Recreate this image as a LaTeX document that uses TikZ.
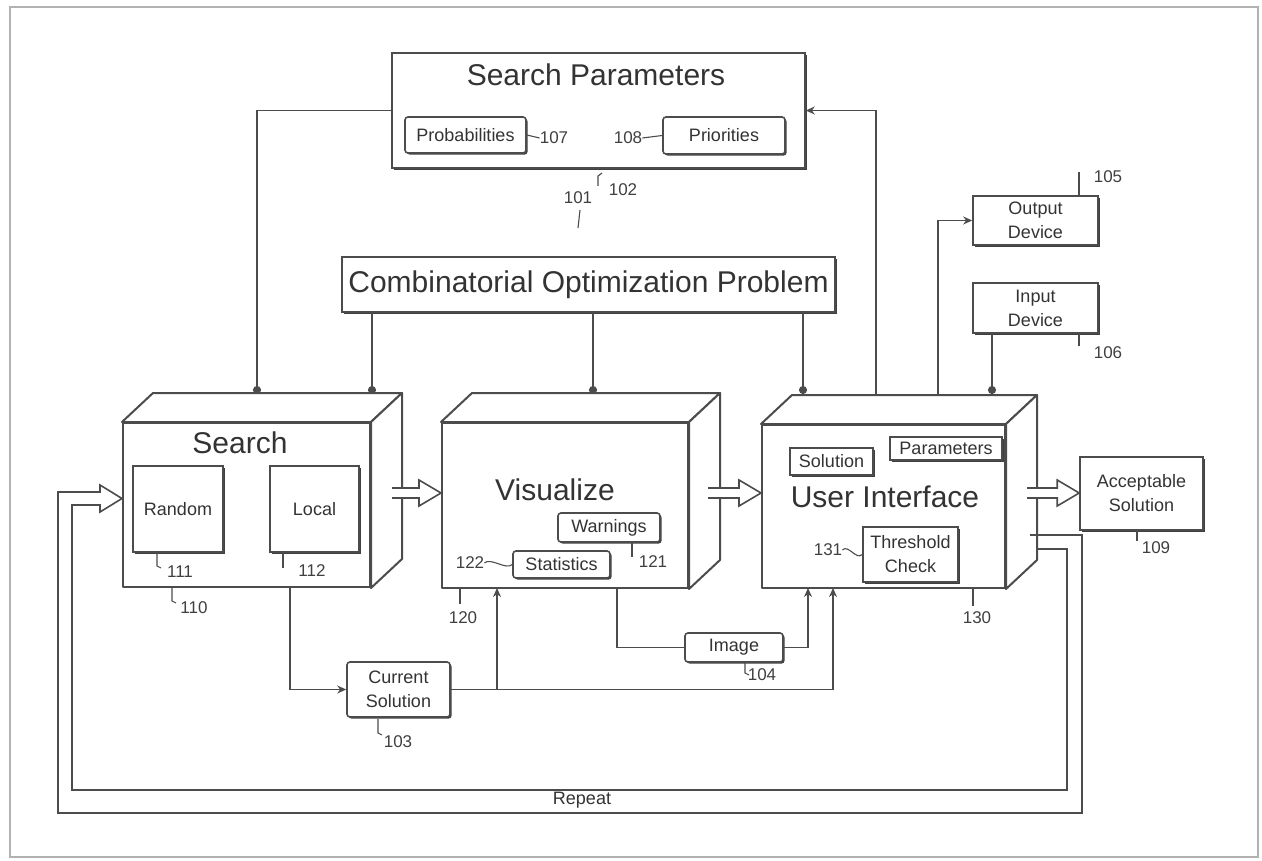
\documentclass[tikz,border=0pt]{standalone}
\usepackage{fontspec}
\setmainfont{Liberation Sans}
\usetikzlibrary{arrows.meta,shadows,calc}

\tikzset{
  ln/.style={draw=black!70, line width=1.7pt},
  arr/.style={ln, -{Stealth[length=9pt,width=8pt]}},
  dotend/.style={ln, -{Circle[length=8pt]}},
  box/.style={draw=black!70, line width=1.6pt, fill=white, inner sep=0pt,
    drop shadow={shadow xshift=1.6pt, shadow yshift=-1.6pt, fill=black!75, opacity=1}},
  rbox/.style={box, rounded corners=3pt},
  face/.style={draw=black!70, line width=2pt, fill=white, line join=round, inner sep=0pt},
  hollow/.style={draw=black!70, line width=1.6pt, fill=white, line join=miter},
  big/.style={font=\fontsize{30}{34}\selectfont, text=black!80, inner sep=0pt},
  small/.style={font=\fontsize{18}{24}\selectfont, text=black!80, align=center},
  num/.style={font=\fontsize{17}{20}\selectfont, text=black!75, inner sep=0pt},
  lead/.style={draw=black!70, line width=1.1pt},
}

% top and right faces of a block whose front face is the node #1
\newcommand\depthfaces[1]{%
  \draw[face] (#1.north west) -- ++(31,-29) -- ($(#1.north east)+(31,-29)$) -- (#1.north east) -- cycle;
  \draw[face] (#1.north east) -- ++(31,-29) -- ($(#1.south east)+(31,-29)$) -- (#1.south east) -- cycle;}

% wide open arrow from coordinate #1 to tip #2
\newcommand\hollowarrow[2]{%
  \draw[hollow] ($(#1)+(0,-5)$) -- ($(#2)+(-22,-5)$) -- ($(#2)+(-22,-13)$) -- (#2)
    -- ($(#2)+(-22,13)$) -- ($(#2)+(-22,5)$) -- ($(#1)+(0,5)$);}

\begin{document}
\begin{tikzpicture}[x=1pt, y=-1pt]
\useasboundingbox (0,0) rectangle (1262,861);
\fill[white] (0,0) rectangle (1262,861);
\draw[black!30, line width=2pt] (10,7) rectangle (1258,857);

% ---------- search parameters ----------
\node[box, minimum width=413pt, minimum height=115pt] (sp) at (598.5,110.5) {};
\node[big] (sptitle) at (596,75) {Search Parameters};
\node[rbox, small, minimum width=121pt, minimum height=36pt] (prob) at (465.5,135) {Probabilities};
\node[rbox, small, minimum width=122pt, minimum height=37pt] (prio) at (724,135.5) {Priorities};
\node[num] (n107) at (554,138) {107};
\draw[lead] (prob.east) -- (n107.west);
\node[num] (n108) at (628,138) {108};
\draw[lead] (n108.east) -- (prio.west);
\node[num] (n102) at (623,190) {102};
\draw[lead] (598,186) -- (598,176) -- (602,173);

% ---------- problem ----------
\node[box, big, minimum width=493pt, minimum height=55pt] (cop) at (588.5,284.5) {Combinatorial Optimization Problem};
\node[num] (n101) at (578,198) {101};
\draw[lead] (580,210) -- (578,228);

% ---------- devices ----------
\node[box, small, minimum width=125pt, minimum height=49pt] (out) at (1035.5,220.5) {Output\\Device};
\node[box, small, minimum width=125pt, minimum height=50pt] (in) at (1035.5,308) {Input\\Device};
\node[num] (n105) at (1108,177) {105};
\draw[lead] (1079,172) -- (1079,196);
\node[num] (n106) at (1108,353) {106};
\draw[lead] (1079,333) -- (1079,346);

% ---------- search block ----------
\node[face, minimum width=247pt, minimum height=164pt] (search) at (246.5,505) {};
\depthfaces{search}
\node[big] (stitle) at (240,443) {Search};
\node[box, small, minimum width=90pt, minimum height=86pt] (rand) at (178,509) {Random};
\node[box, small, minimum width=89pt, minimum height=86pt] (loc) at (314.5,509) {Local};
\node[num] (n111) at (180,572) {111};
\draw[lead] (157,553) -- (157,566) -- (161,568);
\node[num] (n112) at (312,571) {112};
\draw[lead] (283,553) -- (283,568);
\node[num] (n110) at (194,608) {110};
\draw[lead] (172,588) -- (172,601) -- (176,603);

% ---------- visualize block ----------
\node[face, minimum width=246pt, minimum height=165pt] (vis) at (565,505.5) {};
\depthfaces{vis}
\node[big] (vtitle) at (555,490) {Visualize};
\node[rbox, small, minimum width=102pt, minimum height=29pt] (warn) at (609,527.5) {Warnings};
\node[rbox, small, minimum width=97pt, minimum height=27pt] (stat) at (561.5,564.5) {Statistics};
\node[num] (n122) at (470,563) {122};
\draw[lead] (n122.east) .. controls +(6,-6) and +(-6,6) .. (stat.west);
\node[num] (n121) at (653,562) {121};
\draw[lead] (632,543) -- (632,557);
\node[num] (n120) at (463,618) {120};
\draw[lead] (460,589) -- (460,604);

% ---------- user interface block ----------
\node[face, minimum width=243pt, minimum height=163pt] (ui) at (883.5,506.5) {};
\depthfaces{ui}
\node[big] (utitle) at (885,497) {User Interface};
\node[box, small, minimum width=83pt, minimum height=27pt] (sol) at (831.5,461.5) {Solution};
\node[box, small, minimum width=112pt, minimum height=23pt] (par) at (946,448.5) {Parameters};
\node[box, small, minimum width=95pt, minimum height=55pt] (thr) at (910.5,554.5) {Threshold\\Check};
\node[num] (n131) at (828,550) {131};
\draw[lead] (n131.east) .. controls +(6,-6) and +(-6,6) .. (thr.west);
\node[num] (n130) at (977,618) {130};
\draw[lead] (973,589) -- (973,606);

% ---------- result and intermediate boxes ----------
\node[box, small, minimum width=123pt, minimum height=73pt] (acc) at (1141.5,493.5) {Acceptable\\Solution};
\node[num] (n109) at (1156,548) {109};
\draw[lead] (1137,531) -- (1137,541);
\node[rbox, small, minimum width=103pt, minimum height=55pt] (cs) at (398.5,689.5) {Current\\Solution};
\node[num] (n103) at (398,742) {103};
\draw[lead] (378,719) -- (378,733) -- (382,735);
\node[rbox, small, minimum width=98pt, minimum height=29pt] (img) at (734,647.5) {Image};
\node[num] (n104) at (762,675) {104};
\draw[lead] (745,663) -- (745,673) -- (749,675);

% ---------- attachment points on the blocks ----------
\coordinate (sTa) at (257,394);
\coordinate (sTb) at (372,394);
\coordinate (vT)  at (593,394);
\coordinate (uTa) at (803,394);
\coordinate (uTb) at (876,394);
\coordinate (uTc) at (938,394);
\coordinate (uTd) at (992,394);
\coordinate (sB)  at (290,587);
\coordinate (vBa) at (497,588);
\coordinate (vBb) at (617,588);
\coordinate (uBa) at (808,588);
\coordinate (uBb) at (833,588);

% ---------- connectors ----------
\draw[dotend] (sp.west) -| (sTa);
\draw[dotend] (cop.south -| sTb) -- (sTb);
\draw[dotend] (cop.south -| vT) -- (vT);
\draw[dotend] (cop.south -| uTa) -- (uTa);
\draw[arr] (uTb) |- (sp.east);
\draw[arr] (uTc) |- (out.west);
\draw[dotend] (in.south -| uTd) -- (uTd);
\draw[arr] (sB) |- (cs.west);
\draw[arr] (cs.east) -| (uBb);
\draw[arr] (cs.east -| vBa) -- (vBa);
\draw[ln] (vBb) |- (img.west);
\draw[arr] (img.east) -| (uBa);

% ---------- wide flow arrows ----------
\coordinate (svA) at (392,493);
\coordinate (svB) at (vis.west |- svA);
\hollowarrow{svA}{svB}
\coordinate (vuA) at (708,493);
\coordinate (vuB) at (ui.west |- vuA);
\hollowarrow{vuA}{vuB}
\coordinate (uaA) at (1027,493);
\coordinate (uaB) at (acc.west |- uaA);
\hollowarrow{uaA}{uaB}

% ---------- repeat loop ----------
\coordinate (rStart) at (1030,535);
\coordinate (rEnd) at (1037,549);
\coordinate (rTip) at ($(search.west)+(0,-6.5)$);
\draw[hollow, fill=none] (rStart) -- (1082,535) -- (1082,813) -- (58,813) -- (58,492)
  -- ($(rTip)+(-22,-6.5)$) -- ($(rTip)+(-22,-13.5)$) -- (rTip) -- ($(rTip)+(-22,13.5)$)
  -- ($(rTip)+(-22,6.5)$) -- (72,505) -- (72,790) -- (1067,790) -- (1067,549) -- (rEnd);
\node[small, inner sep=0pt] (repeat) at (582,800) {Repeat};
\end{tikzpicture}
\end{document}
